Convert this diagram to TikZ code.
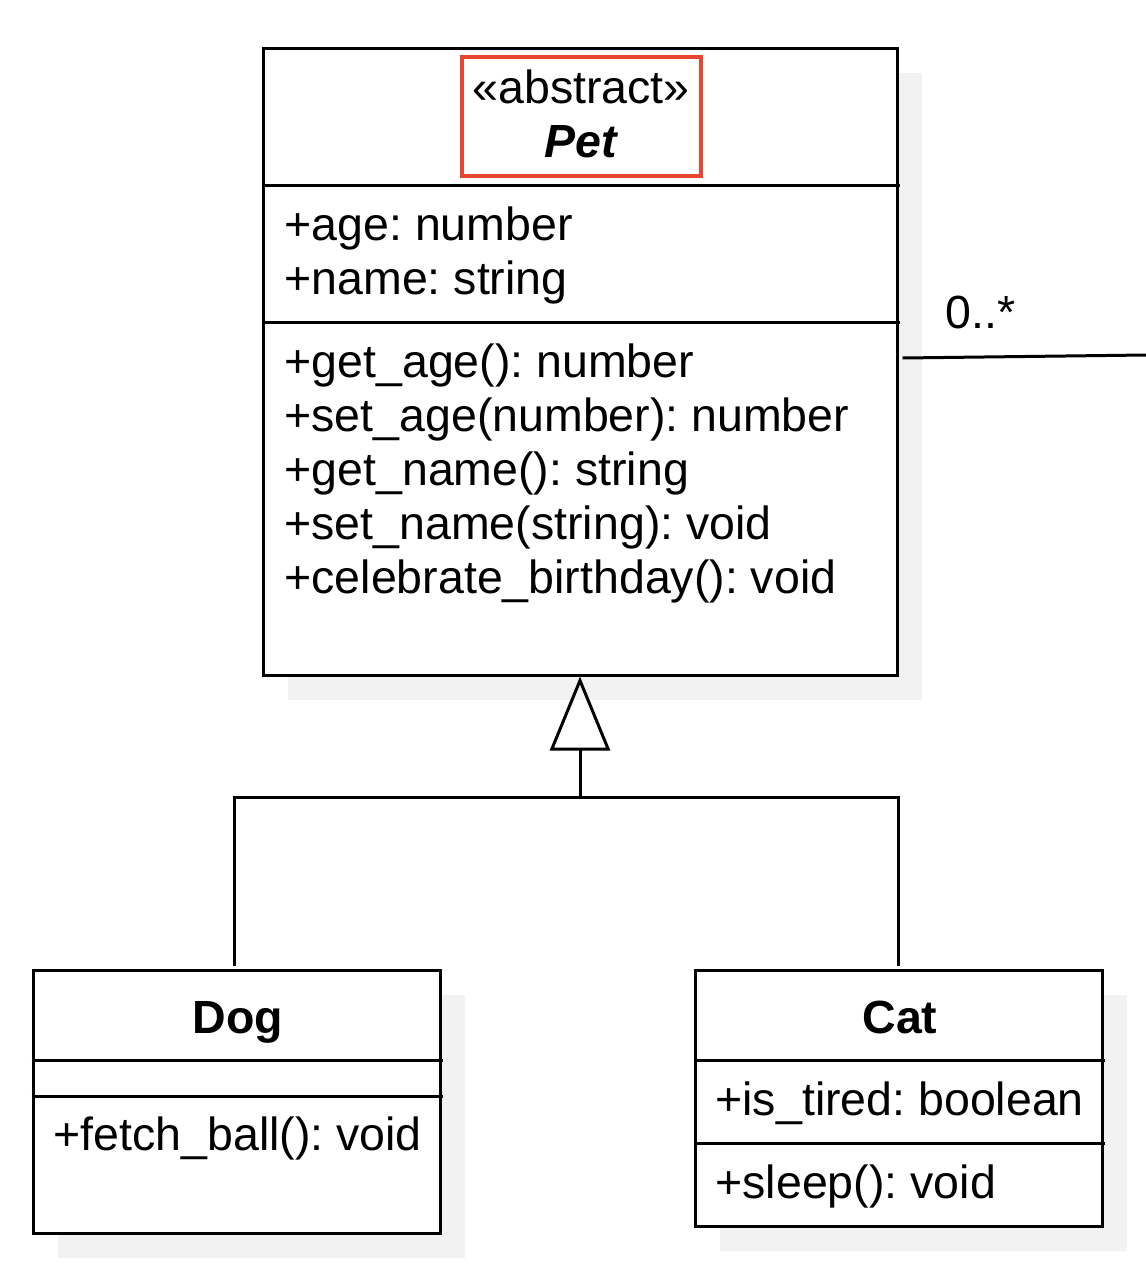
\documentclass[tikz,border=0pt]{standalone}
\usepackage{fontspec}
\setmainfont{Liberation Sans}
\usetikzlibrary{arrows.meta,positioning}
\definecolor{stereored}{HTML}{E8472F}
\definecolor{shadowgray}{HTML}{F2F2F2}
\frenchspacing
\tikzset{
  classbox/.style = {draw, line width=3pt, fill=white, inner sep=0pt},
  shadowbox/.style = {fill=shadowgray},
  member/.style = {anchor=base west, inner sep=0pt, font=\fontsize{46.5}{54}\selectfont},
  classname/.style = {anchor=base, inner sep=0pt, font=\fontsize{46.5}{54}\selectfont\bfseries},
  rule/.style = {line width=3pt},
}
\begin{document}
\begin{tikzpicture}[x=1pt, y=-1pt, line width=3pt]
\useasboundingbox (0,0) rectangle (1146,1278);

% shadows
\fill[shadowgray] (288,73) rectangle (922,700);
\fill[shadowgray] (58,995) rectangle (465,1258);
\fill[shadowgray] (720,995) rectangle (1127,1251);

% abstract class
\node[classbox, minimum width=634pt, minimum height=627pt] (pet) at (580,361.5) {};
\node[draw=stereored, line width=3.5pt, minimum width=239pt, minimum height=119pt] (stereo) at (581.5,116.5) {};
\node[member, anchor=base] (abstract) at (581,103) {«abstract»};
\node[classname, font=\fontsize{46.5}{54}\selectfont\bfseries\itshape] (petname) at (581,157) {Pet};
\draw[rule] (pet.west |- 0,185) -- (900,185);
\draw[rule] (pet.west |- 0,322) -- (900,322);
\foreach \a [count=\i] in {+age: number, +name: string}
   \node[member] (attr\i) at (283, 240+54*\i-54) {\a};
\foreach \m [count=\i] in {+get\_age(): number, +set\_age(number): number,
   +get\_name(): string, +set\_name(string): void, +celebrate\_birthday(): void}
   \node[member] (meth\i) at (283, 377+54*\i-54) {\m};

% subclasses
\node[classbox, minimum width=407pt, minimum height=263pt] (dog) at (236.5,1101.5) {};
\node[classname] (dogname) at (238,1033) {Dog};
\draw[rule] (dog.west |- 0,1060) -- (443,1060);
\draw[rule] (dog.west |- 0,1096) -- (443,1096);
\node[member] (dogmeth) at (52,1150) {+fetch\_ball(): void};

\node[classbox, minimum width=407pt, minimum height=256pt] (cat) at (898.5,1098) {};
\node[classname] (catname) at (900,1033) {Cat};
\draw[rule] (cat.west |- 0,1060) -- (1105,1060);
\draw[rule] (cat.west |- 0,1143) -- (1105,1143);
\node[member] (catattr) at (714,1115) {+is\_tired: boolean};
\node[member] (catmeth) at (714,1198) {+sleep(): void};

% generalisation
\coordinate (fork) at (580,797);
\draw (dog.north) ++(-2.5,-3) |- (fork) -| ([yshift=3pt]cat.north);
\draw[-{Triangle[open, length=74pt, width=60pt, line join=miter]}] (fork) -- (pet.south);

% association
\coordinate (offpage) at (1146,355);
\draw (pet.east) ++(4,-3.5) -- (offpage);
\node[member] (mult) at (944,328) {0..*};
\end{tikzpicture}
\end{document}
